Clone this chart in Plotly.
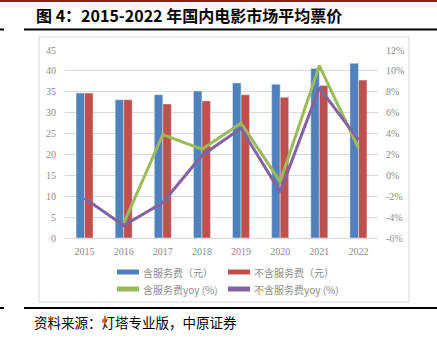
import plotly.graph_objects as go

years = ["2015", "2016", "2017", "2018", "2019", "2020", "2021", "2022"]
with_fee = [34.7, 33.1, 34.3, 35.2, 37.1, 36.8, 40.6, 41.8]
without_fee = [34.7, 33.1, 32.1, 32.8, 34.3, 33.7, 36.5, 37.8]
with_fee_yoy = [None, -4.6, 3.9, 2.5, 5.0, -0.6, 10.5, 2.6]
without_fee_yoy = [-2.2, -4.8, -2.6, 1.9, 4.5, -1.6, 8.4, 3.4]

left_ticks = [0, 5, 10, 15, 20, 25, 30, 35, 40, 45]
right_ticks = [-6, -4, -2, 0, 2, 4, 6, 8, 10, 12]
right_labels = ["-6%", "-4%", "-2%", "0%", "2%", "4%", "6%", "8%", "10%", "12%"]

names = ["含服务费（元）", "不含服务费（元）", "含服务费yoy (%)", "不含服务费yoy (%)"]
colors = ["#4F81BD", "#C0504D", "#9BBB59", "#8064A2"]

W, H = 437, 338
L, R, T, B = 65, 59, 50, 100
PW, PH = W - L - R, H - T - B


def xp(px):
    return (px - L) / PW


def yp(py):
    return (H - B - py) / PH


fig = go.Figure()
fig.add_trace(go.Bar(x=years, y=with_fee, marker_color=colors[0], name=names[0], showlegend=False))
fig.add_trace(go.Bar(x=years, y=without_fee, marker_color=colors[1], name=names[1], showlegend=False))
fig.add_trace(go.Scatter(x=years, y=with_fee_yoy, mode="lines", line=dict(color=colors[2], width=3),
                         yaxis="y2", name=names[2], showlegend=False))
fig.add_trace(go.Scatter(x=years, y=without_fee_yoy, mode="lines", line=dict(color=colors[3], width=3),
                         yaxis="y2", name=names[3], showlegend=False))

tick_font = dict(family="Liberation Serif", size=10, color="#8c8c8c")

shapes = []
# chart frame
shapes.append(dict(type="rect", xref="paper", yref="paper", x0=xp(39), x1=xp(409), y0=yp(302), y1=yp(37),
                   line=dict(color="#d9d9d9", width=1), layer="below"))
# top red rule
shapes.append(dict(type="line", xref="paper", yref="paper", x0=xp(0), x1=xp(437), y0=yp(1), y1=yp(1),
                   line=dict(color="#9b1c1c", width=2)))
# title underline
for (a, b) in [(0, 4), (24, 437)]:
    shapes.append(dict(type="line", xref="paper", yref="paper", x0=xp(a), x1=xp(b), y0=yp(29.5), y1=yp(29.5),
                       line=dict(color="#000000", width=2)))
    shapes.append(dict(type="line", xref="paper", yref="paper", x0=xp(a), x1=xp(b), y0=yp(308), y1=yp(308),
                       line=dict(color="#000000", width=2)))

annotations = []
legend_pos = [(117, 272), (228, 272), (117, 289), (228, 289)]
for (lx, ly), nm, c in zip(legend_pos, names, colors):
    shapes.append(dict(type="line", xref="paper", yref="paper", x0=xp(lx), x1=xp(lx + 22), y0=yp(ly), y1=yp(ly),
                       line=dict(color=c, width=5)))
    annotations.append(dict(xref="paper", yref="paper", x=xp(lx + 24), y=yp(ly), text=nm, showarrow=False,
                            xanchor="left", yanchor="middle",
                            font=dict(family="Noto Sans CJK SC", size=10, color="#8c8c8c")))

annotations.append(dict(xref="paper", yref="paper", x=xp(34), y=yp(15), text="<b>图 4：2015-2022 年国内电影市场平均票价</b>",
                        showarrow=False, xanchor="left", yanchor="middle",
                        font=dict(family="Noto Sans CJK SC", size=16, color="#000000")))
annotations.append(dict(xref="paper", yref="paper", x=xp(32), y=yp(322), text="资料来源：灯塔专业版，中原证券",
                        showarrow=False, xanchor="left", yanchor="middle",
                        font=dict(family="Noto Sans CJK SC", size=13.5, color="#000000")))

fig.update_layout(
    width=W, height=H,
    margin=dict(l=L, r=R, t=T, b=B, pad=0),
    paper_bgcolor="white", plot_bgcolor="white",
    barmode="group", bargap=0.565, bargroupgap=0,
    showlegend=False,
    xaxis=dict(type="category", showgrid=False, showline=True, linecolor="#d9d9d9", linewidth=1,
               tickfont=tick_font, ticks="", ticklabelstandoff=4),
    yaxis=dict(range=[0, 45], tickvals=left_ticks, showgrid=True, gridcolor="#d9d9d9", gridwidth=1,
               zeroline=False, tickfont=tick_font, ticks="", ticklabelstandoff=8),
    yaxis2=dict(range=[-6, 12], tickvals=right_ticks, ticktext=right_labels, overlaying="y", side="right",
                showgrid=False, zeroline=False, tickfont=tick_font, ticks="", ticklabelstandoff=7),
    shapes=shapes,
    annotations=annotations,
)

fig.write_html("out.html")
